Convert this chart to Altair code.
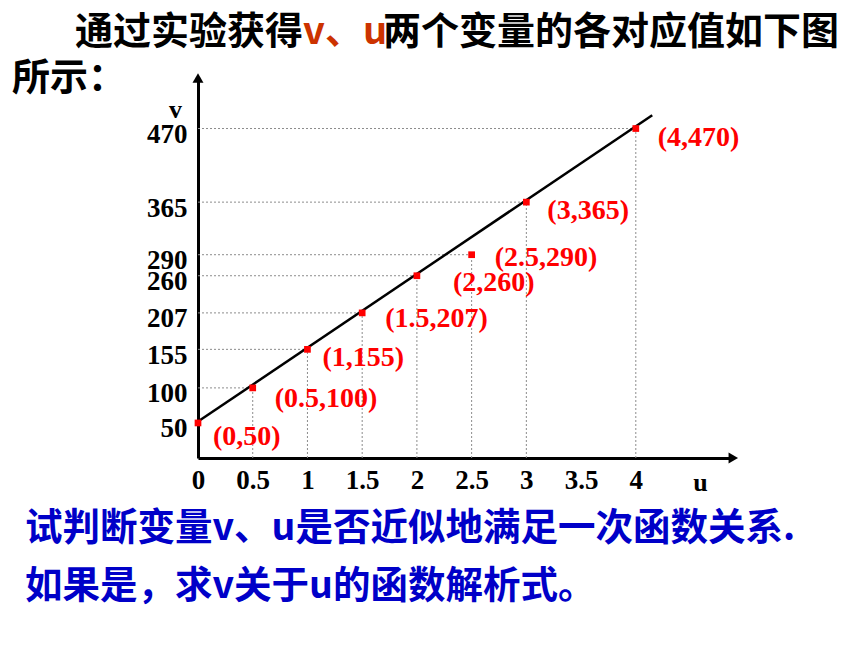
import altair as alt
import pandas as pd

# Measured pairs (u, v)
u_vals = [0, 0.5, 1, 1.5, 2, 2.5, 3, 4]
v_vals = [50, 100, 155, 207, 260, 290, 365, 470]
point_labels = ["(0,50)", "(0.5,100)", "(1,155)", "(1.5,207)",
                "(2,260)", "(2.5,290)", "(3,365)", "(4,470)"]

# Axis tick values
x_ticks = [0, 0.5, 1, 1.5, 2, 2.5, 3, 3.5, 4]
y_ticks = [50, 100, 155, 207, 260, 290, 365, 470]

# Straight line drawn through the points
fit_u = [0, 4.15]
fit_v = [52, 489]

# Surrounding text
title_parts = ["通过实验获得", "v、u", "两个变量的各对应值如下图"]
title_line2 = "所示："
question_lines = ["试判断变量v、u是否近似地满足一次函数关系.",
                  "如果是，求v关于u的函数解析式。"]

# ---- layout -------------------------------------------------------------
LEFT, TOP = 198, 78
PX_PER_U, PX_PER_V = 109.45, 0.701
W, H = 535.3, 380
U_MAX, V_MAX = W / PX_PER_U, H / PX_PER_V

CJK = "Noto Sans CJK SC"
SERIF = "Liberation Serif"
RED = "#ff0000"
BLUE = "#0000c8"
ORANGE = "#cc3300"

x_scale = alt.Scale(domain=[0, U_MAX], nice=False, zero=False)
y_scale = alt.Scale(domain=[0, V_MAX], nice=False, zero=False)

x_axis = alt.Axis(
    values=x_ticks, format="~g", title="u",
    titleX=502, titleY=24, titleAngle=0, titleAlign="center", titleBaseline="middle",
    titleFont=SERIF, titleFontSize=26, titleFontWeight="bold", titleColor="black",
    labelFont=SERIF, labelFontSize=27, labelFontWeight="bold", labelColor="black",
    labelPadding=22, labelBaseline="middle", labelAlign="center",
    labelFlush=False, labelOverlap=False,
    ticks=False, tickSize=0, grid=False, domainColor="black", domainWidth=3,
)
y_axis = alt.Axis(
    values=y_ticks, title="v",
    titleX=-23, titleY=31, titleAngle=0, titleAlign="center", titleBaseline="middle",
    titleFont=SERIF, titleFontSize=26, titleFontWeight="bold", titleColor="black",
    labelFont=SERIF, labelFontSize=27, labelFontWeight="bold", labelColor="black",
    labelPadding=11, labelBaseline="middle", labelAlign="right", labelOffset=6,
    labelFlush=False, labelOverlap=False,
    ticks=False, tickSize=0, grid=False, domainColor="black", domainWidth=3,
)


def X(field):
    return alt.X(field, type="quantitative", scale=x_scale, axis=x_axis)


def Y(field):
    return alt.Y(field, type="quantitative", scale=y_scale, axis=y_axis)


pts = pd.DataFrame({"u": u_vals, "v": v_vals, "label": point_labels})
fit = pd.DataFrame({"u": fit_u, "v": fit_v})

grid_style = dict(color="#8c8c8c", strokeDash=[2, 2], strokeWidth=1)

# dotted guides from each axis to the point
h_guides = alt.Chart(pts).transform_calculate(u0="0").mark_rule(**grid_style).encode(
    x=X("u0"), x2="u", y=Y("v"))
v_guides = alt.Chart(pts).transform_filter("datum.u > 0").transform_calculate(
    v0="0").mark_rule(**grid_style).encode(x=X("u"), y=Y("v0"), y2="v")

fit_line = alt.Chart(fit).mark_line(color="black", strokeWidth=2.5).encode(
    x=X("u"), y=Y("v"))

markers = alt.Chart(pts).mark_square(size=45, color=RED, opacity=1).encode(
    x=X("u"), y=Y("v"))

# pixel nudges for each point label
label_nudge = {
    "(0,50)": (15, 14), "(0.5,100)": (22, 11), "(1,155)": (15, 9),
    "(1.5,207)": (23, 6), "(2,260)": (36, 7), "(2.5,290)": (23, 3),
    "(3,365)": (21, 9), "(4,470)": (22, 9),
}
label_layers = []
for lab, (ddx, ddy) in label_nudge.items():
    label_layers.append(
        alt.Chart(pts).transform_filter(alt.datum.label == lab).mark_text(
            align="left", baseline="middle", dx=ddx, dy=ddy,
            font=SERIF, fontSize=28, fontWeight="bold", color=RED,
        ).encode(x=X("u"), y=Y("v"), text="label:N")
    )

# arrow heads on the axes
arrow_up = alt.Chart(pd.DataFrame({"u": [0], "v": [V_MAX]})).mark_point(
    shape="triangle-up", filled=True, color="black", size=120, opacity=1
).encode(x=X("u"), y=Y("v"))
arrow_right = alt.Chart(pd.DataFrame({"u": [U_MAX], "v": [0]})).mark_point(
    shape="triangle-right", filled=True, color="black", size=120, opacity=1
).encode(x=X("u"), y=Y("v"))


def text_at(txt, px, py, color, size):
    return alt.Chart(pd.DataFrame({"t": [txt]})).mark_text(
        align="left", baseline="middle", font=CJK, fontSize=size,
        fontWeight="bold", color=color,
    ).encode(x=alt.value(px - LEFT), y=alt.value(py - TOP), text="t:N")


texts = [
    text_at(title_parts[0], 75, 33, "black", 38),
    text_at(title_parts[1], 303, 33, ORANGE, 38),
    text_at(title_parts[2], 383, 33, "black", 38),
    text_at(title_line2, 12, 79, "black", 38),
    text_at(question_lines[0], 25, 529, BLUE, 37.5),
    text_at(question_lines[1], 25, 587, BLUE, 37.5),
]

chart = alt.layer(
    h_guides, v_guides, fit_line, markers, *label_layers,
    arrow_up, arrow_right, *texts,
).properties(
    width=W, height=H,
    padding={"left": LEFT, "top": TOP, "right": 860 - LEFT - W, "bottom": 645 - TOP - H},
    autosize=alt.AutoSizeParams(type="none"),
    background="white",
).configure_view(stroke=None)

chart.save("out.html", embed_options={"renderer": "svg", "actions": False})
